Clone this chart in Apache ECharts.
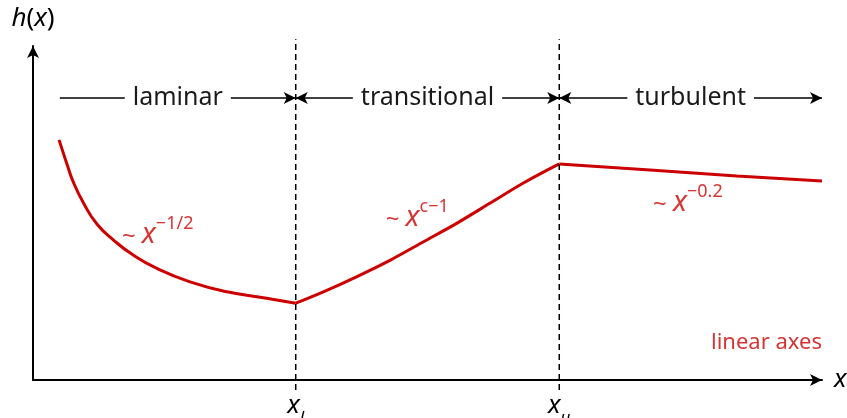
<!DOCTYPE html>
<html>
<head>
<meta charset="utf-8">
<script src="https://cdn.jsdelivr.net/npm/echarts@6/dist/echarts.min.js"></script>
<style>
  html, body { margin: 0; padding: 0; background: #fff; }
  #chart { width: 847px; height: 418px; }
</style>
</head>
<body>
<div id="chart"></div>
<script>
// regime boundaries on the x axis
var xLower = 33.3;
var xUpper = 66.7;

// h(x), one list per regime
var laminarX = [3.3, 4.3, 5.1, 6.4, 8.1, 10.2, 12.7, 15.7, 19.9, 24.6, 29.6, 33.3];
var laminarY = [71.9, 64.7, 59.3, 53.0, 46.7, 41.9, 37.4, 33.4, 29.4, 26.4, 24.5, 23.0];
var transX = [33.3, 36.8, 41.0, 45.3, 49.5, 53.7, 57.9, 62.1, 66.7];
var transY = [23.0, 26.4, 30.9, 35.9, 41.4, 46.9, 52.9, 58.9, 64.7];
var turbX = [66.7, 78.2, 89.2, 100];
var turbY = [64.7, 62.9, 61.1, 59.6];

// regime names for the arrow row
var regimes = ['laminar', 'transitional', 'turbulent'];
var regimeFrom = [3.4, xLower, xUpper];
var regimeTo = [xLower, xUpper, 100];
var arrowRowY = 84.4;

// scaling laws written next to the curve
var lawTexts = ['{t|~ }{i|x}{s|−1/2}', '{t|~ }{i|x}{s|c−1}', '{t|~ }{i|x}{s|−0.2}'];
var lawX = [15.8, 48.7, 83.0];
var lawY = [44.3, 49.4, 53.9];

var red = '#cc0000';
var font = '"Noto Sans", "DejaVu Sans", sans-serif';

function pairs(xs, ys) {
  return xs.map(function (x, i) { return [x, ys[i]]; });
}

var lawRich = {
  t: { fontSize: 24, color: red, fontFamily: font, lineHeight: 34, verticalAlign: 'bottom' },
  i: { fontSize: 29, color: red, fontFamily: font, fontStyle: 'italic', lineHeight: 34, verticalAlign: 'bottom' },
  s: { fontSize: 18, color: red, fontFamily: font, lineHeight: 18, verticalAlign: 'top' }
};

var arrowLines = regimes.map(function (name, i) {
  return [
    { coord: [regimeFrom[i], arrowRowY], name: name, symbol: i === 0 ? 'none' : 'arrow' },
    { coord: [regimeTo[i], arrowRowY], symbol: 'arrow' }
  ];
});

var chart = echarts.init(document.getElementById('chart'));

var option = {
  animation: false,
  backgroundColor: '#fff',
  grid: { left: 33, right: 25, top: 46, bottom: 38, outerBoundsMode: 'none' },
  xAxis: {
    type: 'value',
    min: 0,
    max: 100,
    splitLine: { show: false },
    axisTick: { show: false },
    axisLine: {
      onZero: false,
      symbol: ['none', 'arrow'],
      symbolSize: [9, 12],
      lineStyle: { color: '#000', width: 2 }
    },
    axisLabel: {
      customValues: [xLower, xUpper],
      margin: 13,
      formatter: function (v) {
        return v === xLower ? '{i|x}{s|l}' : '{i|x}{s|u}';
      },
      rich: {
        i: { fontSize: 26, fontFamily: font, fontStyle: 'italic', color: '#000', lineHeight: 28, verticalAlign: 'top' },
        s: { fontSize: 17, fontFamily: font, fontStyle: 'italic', color: '#000', lineHeight: 17, padding: [22, 0, 0, 0] }
      }
    },
    name: 'x',
    nameLocation: 'end',
    nameGap: 12,
    nameTextStyle: { fontSize: 26, fontFamily: font, fontStyle: 'italic', color: '#000' }
  },
  yAxis: {
    type: 'value',
    min: 0,
    max: 100,
    splitLine: { show: false },
    axisTick: { show: false },
    axisLabel: { show: false },
    axisLine: {
      onZero: false,
      symbol: ['none', 'arrow'],
      symbolSize: [9, 12],
      lineStyle: { color: '#000', width: 2 }
    },
    name: '{i|h}{n|(}{i|x}{n|)}',
    nameLocation: 'end',
    nameGap: 14,
    nameTextStyle: {
      rich: {
        i: { fontSize: 26, fontFamily: font, fontStyle: 'italic', color: '#000' },
        n: { fontSize: 26, fontFamily: font, color: '#000' }
      }
    }
  },
  series: [
    {
      type: 'line',
      data: pairs(laminarX, laminarY),
      smooth: 0.5,
      symbol: 'none',
      lineStyle: { color: red, width: 3 }
    },
    {
      type: 'line',
      data: pairs(transX, transY),
      smooth: 0.3,
      symbol: 'none',
      lineStyle: { color: red, width: 3 }
    },
    {
      type: 'line',
      data: pairs(turbX, turbY),
      symbol: 'none',
      lineStyle: { color: red, width: 3 }
    },
    {
      type: 'line',
      data: [[xLower, -3], [xLower, 102]],
      symbol: 'none',
      clip: false,
      lineStyle: { color: '#000', width: 1.5, type: [6, 4] }
    },
    {
      type: 'line',
      data: [[xUpper, -3], [xUpper, 102]],
      symbol: 'none',
      clip: false,
      lineStyle: { color: '#000', width: 1.5, type: [6, 4] },
      markLine: {
        silent: true,
        symbolSize: [9, 12],
        lineStyle: { color: '#000', width: 1.5, type: 'solid' },
        label: {
          position: 'insideMiddle',
          distance: 0,
          formatter: '{b}',
          fontSize: 25,
          fontFamily: font,
          color: '#1a1a1a',
          backgroundColor: '#fff',
          padding: [0, 8]
        },
        data: arrowLines
      }
    },
    {
      type: 'scatter',
      symbolSize: 0,
      clip: false,
      data: lawX.map(function (x, i) { return { value: [x, lawY[i]], name: lawTexts[i] }; }),
      label: {
        show: true,
        position: 'inside',
        formatter: '{b}',
        rich: lawRich
      }
    },
    {
      type: 'scatter',
      symbolSize: 0,
      clip: false,
      data: [{ value: [100, 11.1], name: 'linear axes' }],
      label: {
        show: true,
        position: 'left',
        distance: 0,
        formatter: '{b}',
        fontSize: 22,
        fontFamily: font,
        color: red
      }
    }
  ]
};

chart.setOption(option);
</script>
</body>
</html>
